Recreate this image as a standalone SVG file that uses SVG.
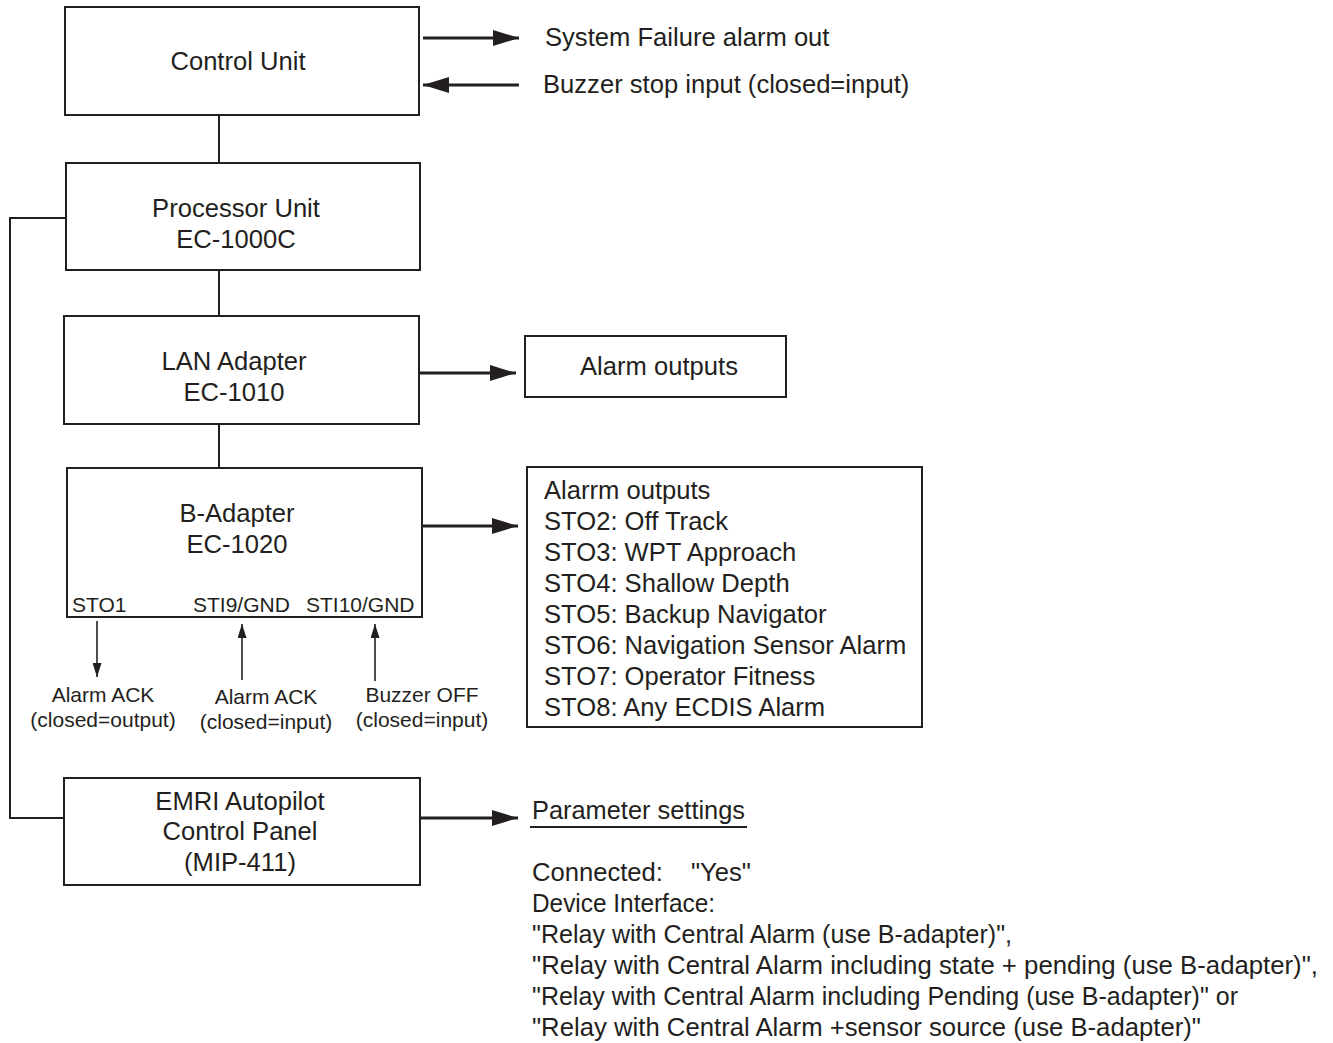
<svg xmlns="http://www.w3.org/2000/svg" width="1333" height="1043" viewBox="0 0 1333 1043">
<style>
.box{fill:#fff;stroke:#231f20;stroke-width:2}
.ln{fill:none;stroke:#231f20;stroke-width:2}
.thk{fill:none;stroke:#231f20;stroke-width:3}
.thin{fill:none;stroke:#231f20;stroke-width:1.6}
text{font-family:"Liberation Sans",Arial,sans-serif;fill:#231f20}
.t{font-size:25.6px}
.b{font-size:25.6px}
.c{text-anchor:middle}
.s{font-size:21px}
</style>
<defs>
<marker id="ah" viewBox="0 0 26 16" refX="26" refY="8" markerWidth="26" markerHeight="16" markerUnits="userSpaceOnUse" orient="auto">
<path d="M0,0 L26,8 L0,16 Z" fill="#231f20"/>
</marker>
<marker id="as" viewBox="0 0 14 9" refX="14" refY="4.5" markerWidth="14" markerHeight="9" markerUnits="userSpaceOnUse" orient="auto">
<path d="M0,0 L14,4.5 L0,9 Z" fill="#231f20"/>
</marker>
</defs>
<rect width="1333" height="1043" fill="#fff"/>
<g id="connectors">
<line class="ln" x1="219" y1="115" x2="219" y2="163"/>
<line class="ln" x1="219" y1="270" x2="219" y2="316"/>
<line class="ln" x1="219" y1="424" x2="219" y2="468"/>
<polyline class="ln" points="66,218 10,218 10,818 64,818"/>
<line class="thk" x1="423" y1="38" x2="519" y2="38" marker-end="url(#ah)"/>
<line class="thk" x1="519" y1="85" x2="423" y2="85" marker-end="url(#ah)"/>
<line class="thk" x1="420" y1="373" x2="516" y2="373" marker-end="url(#ah)"/>
<line class="thk" x1="422" y1="526" x2="518" y2="526" marker-end="url(#ah)"/>
<line class="thk" x1="420" y1="818" x2="518" y2="818" marker-end="url(#ah)"/>
<line class="thin" x1="97" y1="621" x2="97" y2="677" marker-end="url(#as)"/>
<line class="thin" x1="242" y1="680" x2="242" y2="624" marker-end="url(#as)"/>
<line class="thin" x1="375" y1="681" x2="375" y2="624" marker-end="url(#as)"/>
<line class="ln" x1="530" y1="827" x2="747" y2="827"/>
</g>
<g id="control-unit">
<rect class="box" x="65" y="7" width="354" height="108"/>
<text class="t c" x="238" y="70">Control Unit</text>
</g>
<g id="system-failure">
<text class="t" x="545" y="46">System Failure alarm out</text>
</g>
<g id="buzzer-stop">
<text class="t" x="543" y="93">Buzzer stop input (closed=input)</text>
</g>
<g id="processor-unit">
<rect class="box" x="66" y="163" width="354" height="107"/>
<text class="t c" x="236" y="217">Processor Unit</text>
<text class="t c" x="236" y="248">EC-1000C</text>
</g>
<g id="lan-adapter">
<rect class="box" x="64" y="316" width="355" height="108"/>
<text class="t c" x="234" y="370">LAN Adapter</text>
<text class="t c" x="234" y="401">EC-1010</text>
</g>
<g id="alarm-outputs">
<rect class="box" x="525" y="336" width="261" height="61"/>
<text class="t c" x="659" y="375">Alarm outputs</text>
</g>
<g id="b-adapter">
<rect class="box" x="67" y="468" width="355" height="149"/>
<text class="t c" x="237" y="522">B-Adapter</text>
<text class="t c" x="237" y="553">EC-1020</text>
<text class="s" x="72" y="612">STO1</text>
<text class="s" x="193" y="612">STI9/GND</text>
<text class="s" x="306" y="612">STI10/GND</text>
</g>
<g id="alarm-ack-out">
<text class="s c" x="103" y="702">Alarm ACK</text>
<text class="s c" x="103" y="727">(closed=output)</text>
</g>
<g id="alarm-ack-in">
<text class="s c" x="266" y="704">Alarm ACK</text>
<text class="s c" x="266" y="729">(closed=input)</text>
</g>
<g id="buzzer-off">
<text class="s c" x="422" y="702">Buzzer OFF</text>
<text class="s c" x="422" y="727">(closed=input)</text>
</g>
<g id="alarm-list">
<rect class="box" x="527" y="467" width="395" height="260"/>
<text class="t" x="544" y="499">Alarrm outputs</text>
<text class="t" x="544" y="530">STO2: Off Track</text>
<text class="t" x="544" y="561">STO3: WPT Approach</text>
<text class="t" x="544" y="592">STO4: Shallow Depth</text>
<text class="t" x="544" y="623">STO5: Backup Navigator</text>
<text class="t" x="544" y="654">STO6: Navigation Sensor Alarm</text>
<text class="t" x="544" y="685">STO7: Operator Fitness</text>
<text class="t" x="544" y="716">STO8: Any ECDIS Alarm</text>
</g>
<g id="emri">
<rect class="box" x="64" y="778" width="356" height="107"/>
<text class="t c" x="240" y="810">EMRI Autopilot</text>
<text class="t c" x="240" y="840">Control Panel</text>
<text class="t c" x="240" y="871">(MIP-411)</text>
</g>
<g id="parameter-settings">
<text class="b" x="532" y="819" textLength="213" lengthAdjust="spacingAndGlyphs">Parameter settings</text>
<text class="b" x="532" y="881">Connected:</text>
<text class="b" x="691" y="881">"Yes"</text>
<text class="b" x="532" y="912" textLength="183" lengthAdjust="spacingAndGlyphs">Device Interface:</text>
<text class="b" x="532" y="943" textLength="480" lengthAdjust="spacingAndGlyphs">"Relay with Central Alarm (use B-adapter)",</text>
<text class="b" x="532" y="974" textLength="786" lengthAdjust="spacingAndGlyphs">"Relay with Central Alarm including state + pending (use B-adapter)",</text>
<text class="b" x="532" y="1005" textLength="706" lengthAdjust="spacingAndGlyphs">"Relay with Central Alarm including Pending (use B-adapter)" or</text>
<text class="b" x="532" y="1036" textLength="669" lengthAdjust="spacingAndGlyphs">"Relay with Central Alarm +sensor source (use B-adapter)"</text>
</g>
</svg>
